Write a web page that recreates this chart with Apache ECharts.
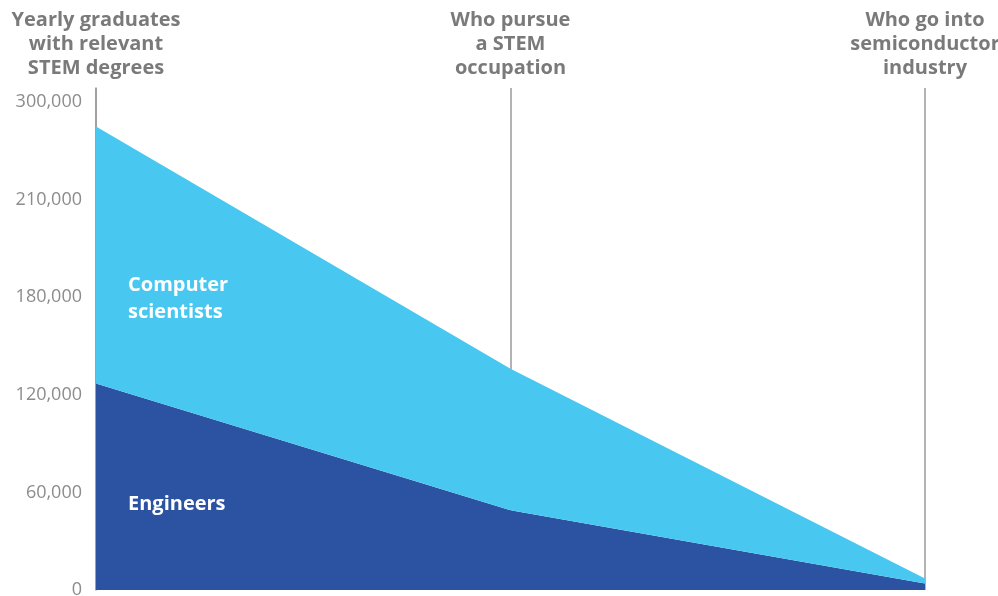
<!DOCTYPE html>
<html>
<head>
<meta charset="utf-8">
<script src="https://cdn.jsdelivr.net/npm/echarts@6/dist/echarts.min.js"></script>
<style>
html,body{margin:0;padding:0;background:#fff;}
#chart{width:998px;height:596px;}
</style>
</head>
<body>
<div id="chart"></div>
<script>
var stages = ['Yearly graduates\nwith relevant\nSTEM degrees', 'Who pursue\na STEM\noccupation', 'Who go into\nsemiconductor\nindustry'];
var engineers = [127000, 49000, 4000];
var computerScientists = [158000, 87000, 3000];
var yTickLabels = ['0', '60,000', '120,000', '180,000', '210,000', '300,000'];
var yStep = 60000;

var chart = echarts.init(document.getElementById('chart'));
var gray = '#7a7a7a';
chart.setOption({
  animation: false,
  grid: {left: 96, right: 73, top: 88, bottom: 6, containLabel: false, outerBoundsMode: 'none'},
  xAxis: [{
    type: 'category', data: stages, boundaryGap: false,
    axisLine: {show: false}, axisTick: {show: false}, axisLabel: {show: false},
    splitLine: {show: true, lineStyle: {color: '#9a9a9a', width: 1.5}}
  }, {
    type: 'category', data: stages, boundaryGap: false, position: 'top',
    axisLine: {show: false}, axisTick: {show: false},
    axisLabel: {show: true, interval: 0, margin: 8, color: gray, fontFamily: 'Open Sans',
      fontWeight: 'bold', fontSize: 20, lineHeight: 24, align: 'center', hideOverlap: false}
  }],
  yAxis: {
    type: 'value', min: 0, max: 300000 * 502 / 488, interval: yStep,
    axisLine: {show: true, lineStyle: {color: '#9a9a9a', width: 1.5}},
    axisTick: {show: false}, splitLine: {show: false},
    axisLabel: {color: '#8c8c8c', fontFamily: 'Open Sans', fontSize: 18, margin: 14,
      showMaxLabel: false,
      formatter: function (v) {
        var i = Math.round(v / yStep);
        if (Math.abs(v - i * yStep) > 1) return '';
        return yTickLabels[i] || '';
      }}
  },
  series: [{
    name: 'Engineers', type: 'line', stack: 'total', data: engineers,
    symbol: 'none', lineStyle: {width: 0}, areaStyle: {color: '#2c52a2', opacity: 1}, z: 3
  }, {
    name: 'Computer scientists', type: 'line', stack: 'total', data: computerScientists,
    symbol: 'none', lineStyle: {width: 0}, areaStyle: {color: '#48c8f0', opacity: 1}, z: 3
  }],
  graphic: {elements: [{
    type: 'text', left: 128, top: 272, z: 100,
    style: {text: 'Computer\nscientists', fill: '#ffffff', fontFamily: 'Open Sans', fontWeight: 'bold', fontSize: 20, lineHeight: 27}
  }, {
    type: 'text', left: 128, top: 491, z: 100,
    style: {text: 'Engineers', fill: '#ffffff', fontFamily: 'Open Sans', fontWeight: 'bold', fontSize: 20, lineHeight: 27}
  }]}
});
</script>
</body>
</html>
